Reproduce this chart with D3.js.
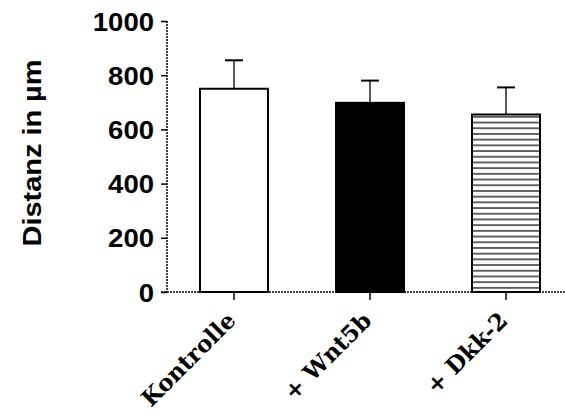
<!DOCTYPE html>
<html><head><meta charset="utf-8">
<script src="https://cdn.jsdelivr.net/npm/d3@7"></script>
<style>body{margin:0;background:#fff}svg{display:block}</style>
</head><body>
<script>
const categories = ["Kontrolle", "+ Wnt5b", "+ Dkk-2"];
const means = [750, 698, 655];
const errors = [105, 82, 100];
const yTicks = [0, 200, 400, 600, 800, 1000];
const yLabel = "Distanz in µm";

const W = 565, H = 416;
const svg = d3.select("body").append("svg").attr("width", W).attr("height", H);

const defs = svg.append("defs");
const pat = defs.append("pattern").attr("id", "hatch").attr("patternUnits", "userSpaceOnUse")
  .attr("width", 10).attr("height", 5.7);
pat.append("rect").attr("width", 10).attr("height", 5.7).attr("fill", "#fff");
pat.append("line").attr("x1", 0).attr("x2", 10).attr("y1", 2.85).attr("y2", 2.85)
  .attr("stroke", "#000").attr("stroke-width", 1.2);

const AX = 167;
const y = d3.scaleLinear().domain([0, 1000]).range([292, 21]);
const x = d3.scaleBand().domain(categories).range([166, 574]).paddingInner(0.5).paddingOuter(0.25);
const fills = ["#fff", "#000", "url(#hatch)"];

// error bars
const eb = svg.append("g");
categories.forEach((c, i) => {
  const cx = x(c) + x.bandwidth() / 2;
  eb.append("line").attr("x1", cx).attr("x2", cx).attr("y1", y(means[i])).attr("y2", y(means[i] + errors[i]))
    .attr("stroke", "#222").attr("stroke-width", 1.5);
  eb.append("line").attr("x1", cx - 9).attr("x2", cx + 9).attr("y1", y(means[i] + errors[i])).attr("y2", y(means[i] + errors[i]))
    .attr("stroke", "#000").attr("stroke-width", 2);
});

// bars
svg.append("g").selectAll("rect").data(categories).join("rect")
  .attr("x", d => x(d)).attr("width", x.bandwidth())
  .attr("y", (d, i) => y(means[i])).attr("height", (d, i) => y(0) - y(means[i]))
  .attr("fill", (d, i) => fills[i]).attr("stroke", "#000").attr("stroke-width", 2);

// y axis
const yAxis = d3.axisLeft(y).tickValues(yTicks).tickSize(6).tickPadding(7).tickFormat(d3.format("d"));
const ga = svg.append("g").attr("transform", `translate(${AX},0)`).call(yAxis);
ga.select(".domain").remove();
ga.selectAll(".tick line").attr("stroke", "#000").attr("stroke-width", 1.5);
ga.selectAll(".tick text").attr("font-family", "Liberation Sans, Arial, sans-serif")
  .attr("font-weight", "bold").attr("font-size", 25).attr("fill", "#000").attr("dy", "0.36em")
  .attr("textLength", d => String(d).length * 15.3).attr("lengthAdjust", "spacingAndGlyphs");
svg.append("line").attr("x1", AX).attr("x2", AX).attr("y1", y(1000)).attr("y2", y(0))
  .attr("stroke", "#000").attr("stroke-width", 1.5).attr("stroke-dasharray", "2,1");

// x axis
const xAxis = d3.axisBottom(x).tickSize(8).tickFormat("");
const gx = svg.append("g").attr("transform", "translate(0,292)").call(xAxis);
gx.select(".domain").remove();
gx.selectAll(".tick line").attr("stroke", "#000").attr("stroke-width", 1.5);
svg.append("line").attr("x1", AX - 6).attr("x2", W).attr("y1", 292).attr("y2", 292)
  .attr("stroke", "#000").attr("stroke-width", 1.5).attr("stroke-dasharray", "2,1");

// x labels
svg.append("g").selectAll("text").data(categories).join("text")
  .attr("transform", d => `translate(${x(d) + x.bandwidth() / 2 + 3},${322}) rotate(-45)`)
  .attr("text-anchor", "end")
  .attr("font-family", "DejaVu Serif, serif")
  .attr("font-weight", "bold").attr("font-size", 23).attr("fill", "#000")
  .text(d => d);

// y label
svg.append("text").attr("transform", "translate(41,153) rotate(-90)")
  .attr("text-anchor", "middle")
  .attr("font-family", "Liberation Sans, Arial, sans-serif")
  .attr("font-weight", "bold").attr("font-size", 25).attr("fill", "#000")
  .attr("textLength", 187).attr("lengthAdjust", "spacingAndGlyphs")
  .text(yLabel);
</script>
</body></html>
